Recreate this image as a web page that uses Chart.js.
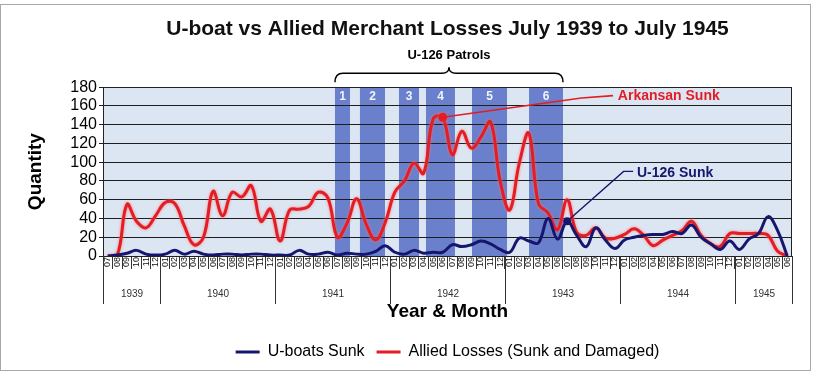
<!DOCTYPE html>
<html><head><meta charset="utf-8">
<script src="https://cdn.jsdelivr.net/npm/chart.js@4.4.1/dist/chart.umd.min.js"></script>
<style>html,body{margin:0;padding:0;background:#fff;}canvas{display:block;}</style>
</head><body>
<canvas id="c" width="819" height="379"></canvas>
<script>
// ---- data ----
const months = ['07','08','09','10','11','12',
  '01','02','03','04','05','06','07','08','09','10','11','12',
  '01','02','03','04','05','06','07','08','09','10','11','12',
  '01','02','03','04','05','06','07','08','09','10','11','12',
  '01','02','03','04','05','06','07','08','09','10','11','12',
  '01','02','03','04','05','06','07','08','09','10','11','12',
  '01','02','03','04','05','06'];
const yearLabels = ['1939','1940','1941','1942','1943','1944','1945'];
const yearBounds = [0, 6, 18, 30, 42, 54, 66, 72];
const uboatsSunk = [0,1,3,6,2,1, 2,6,2,5,2,1,2,2,1,2,2,1, 1,1,6,2,2,4,1,3,2,2,5,11,
  4,2,6,3,4,4,12,10,12,16,13,7, 4,19,16,14,40,18,37,22,10,30,17,8,
  17,20,22,23,23,26,24,33,20,13,7,16, 7,18,24,42,27,0];
const alliedLosses = [0,1,55,37,30,43, 57,56,32,12,20,69,43,68,63,75,37,50,
  16,49,50,53,68,62,20,35,61,34,17,36, 68,80,99,88,146,148,108,133,115,127,143,80,
  49,99,131,56,46,28,60,25,22,30,19,19, 23,29,22,11,17,22,27,37,22,13,10,24,
  24,24,24,22,5,0];
const patrolNames = ['1','2','3','4','5','6'];
const patrolStart = [23.74, 26.35, 30.43, 33.25, 38.06, 44.02];
const patrolEnd   = [25.31, 28.97, 32.52, 36.28, 41.72, 47.57];
const arkansanIndex = 35;
const u126Index = 48;

const RED = '#e21d25', NAVY = '#17166e';
const FONT = "'Liberation Sans', Arial, sans-serif";
Chart.defaults.font.family = FONT;
Chart.defaults.color = '#000';

const decor = {
  id: 'decor',
  beforeDraw(chart) {
    const {ctx, chartArea: a, scales: {x}} = chart;
    ctx.save();
    ctx.fillStyle = '#fff';
    ctx.fillRect(0, 0, chart.width, chart.height);
    ctx.strokeStyle = '#a8a8a8'; ctx.lineWidth = 1;
    ctx.strokeRect(0.5, 4.5, 810, 366);
    ctx.fillStyle = '#dce6f2';
    ctx.fillRect(a.left, a.top, a.right - a.left, a.bottom - a.top);
    ctx.fillStyle = '#6a80cc';
    patrolStart.forEach((s, i) => {
      const x0 = x.getPixelForValue(s), x1 = x.getPixelForValue(patrolEnd[i]);
      ctx.fillRect(x0, a.top, x1 - x0, a.bottom - a.top);
    });
    ctx.fillStyle = '#f0f3fb';
    ctx.font = 'bold 12px ' + FONT;
    ctx.textAlign = 'center'; ctx.textBaseline = 'middle';
    patrolStart.forEach((s, i) => {
      const xc = (x.getPixelForValue(s) + x.getPixelForValue(patrolEnd[i])) / 2;
      ctx.fillText(patrolNames[i], xc, a.top + 9);
    });
    ctx.restore();
  },
  beforeDatasetDraw(chart, args) {
    if (args.index === 1) {
      chart.ctx.save();
      chart.ctx.shadowColor = 'rgba(255,110,110,0.9)';
      chart.ctx.shadowBlur = 3;
    }
  },
  afterDatasetDraw(chart, args) {
    if (args.index === 1) chart.ctx.restore();
  },
  afterDatasetsDraw(chart) {
    const {ctx, scales: {x, y}} = chart;
    ctx.save();
    ctx.strokeStyle = RED; ctx.lineWidth = 1.6;
    ctx.beginPath();
    ctx.moveTo(x.getPixelForValue(arkansanIndex), y.getPixelForValue(alliedLosses[arkansanIndex]));
    ctx.lineTo(x.getPixelForValue(49.5), y.getPixelForValue(168.5));
    ctx.lineTo(x.getPixelForValue(52.8), y.getPixelForValue(171));
    ctx.stroke();
    ctx.fillStyle = RED;
    ctx.font = 'bold 14px ' + FONT;
    ctx.textAlign = 'left'; ctx.textBaseline = 'middle';
    ctx.fillText('Arkansan Sunk', x.getPixelForValue(53.3), y.getPixelForValue(170.4));
    ctx.strokeStyle = NAVY; ctx.lineWidth = 1.4;
    ctx.beginPath();
    ctx.moveTo(x.getPixelForValue(u126Index), y.getPixelForValue(uboatsSunk[u126Index]));
    ctx.lineTo(x.getPixelForValue(53.9), y.getPixelForValue(90.2));
    ctx.lineTo(x.getPixelForValue(54.9), y.getPixelForValue(90.2));
    ctx.stroke();
    ctx.fillStyle = NAVY;
    ctx.fillText('U-126 Sunk', x.getPixelForValue(55.3), y.getPixelForValue(88.4));
    ctx.restore();
  },
  afterDraw(chart) {
    const {ctx, chartArea: a, scales: {x}} = chart;
    ctx.save();
    ctx.strokeStyle = '#222'; ctx.lineWidth = 1;
    ctx.strokeRect(Math.round(a.left) + 0.5, Math.round(a.top) + 0.5, Math.round(a.right - a.left) - 1, Math.round(a.bottom - a.top));
    const px = b => Math.round(x.getPixelForValue(b - 0.5)) + 0.5;
    ctx.strokeStyle = '#333';
    yearBounds.forEach(b => {
      ctx.beginPath(); ctx.moveTo(px(b), a.bottom); ctx.lineTo(px(b), a.bottom + 48); ctx.stroke();
    });
    ctx.fillStyle = '#333'; ctx.font = '10px ' + FONT;
    ctx.textAlign = 'center'; ctx.textBaseline = 'middle';
    yearLabels.forEach((lab, i) => {
      ctx.fillText(lab, (px(yearBounds[i]) + px(yearBounds[i + 1])) / 2, a.bottom + 38);
    });
    const xl = x.getPixelForValue(patrolStart[0]), xr = x.getPixelForValue(patrolEnd[patrolEnd.length - 1]);
    const xm = (xl + xr) / 2;
    const yEnd = a.top - 5, yMid = a.top - 14, yTip = a.top - 20;
    ctx.strokeStyle = '#000'; ctx.lineWidth = 1.5;
    ctx.beginPath();
    ctx.moveTo(xl, yEnd);
    ctx.quadraticCurveTo(xl, yMid, xl + 8, yMid);
    ctx.lineTo(xm - 7, yMid);
    ctx.quadraticCurveTo(xm, yMid, xm, yTip);
    ctx.quadraticCurveTo(xm, yMid, xm + 7, yMid);
    ctx.lineTo(xr - 8, yMid);
    ctx.quadraticCurveTo(xr, yMid, xr, yEnd);
    ctx.stroke();
    ctx.fillStyle = '#000';
    ctx.font = "bold 13px 'Liberation Sans Narrow', " + FONT;
    ctx.fillText('U-126 Patrols', xm, a.top - 32);
    ctx.restore();
  }
};

new Chart(document.getElementById('c'), {
  type: 'line',
  data: {
    labels: months,
    datasets: [
      { label: 'U-boats Sunk', data: uboatsSunk, borderColor: NAVY, backgroundColor: NAVY,
        borderWidth: 3, tension: 0.4, fill: false,
        pointRadius: c => c.dataIndex === u126Index ? 4 : 0, pointBackgroundColor: NAVY, pointBorderWidth: 0 },
      { label: 'Allied Losses (Sunk and Damaged)', data: alliedLosses, borderColor: RED, backgroundColor: RED,
        borderWidth: 3, tension: 0.4, fill: false,
        pointRadius: c => c.dataIndex === arkansanIndex ? 4.5 : 0, pointBackgroundColor: RED, pointBorderWidth: 0 }
    ]
  },
  options: {
    responsive: false, animation: false, devicePixelRatio: 1,
    layout: { padding: { left: 0, right: 27, top: 0, bottom: 9 } },
    plugins: {
      title: { display: true, fullSize: false, text: 'U-boat vs Allied Merchant Losses July 1939 to July 1945',
        font: { size: 21, weight: 'bold' }, color: '#111', padding: { top: 17, bottom: 45 } },
      legend: { position: 'bottom', fullSize: false,
        labels: { usePointStyle: true, pointStyle: 'line', pointStyleWidth: 24, padding: 12,
          font: { size: 16 }, color: '#000',
          generateLabels: chart => chart.data.datasets.map((ds, i) => ({
            text: ds.label, strokeStyle: ds.borderColor, fillStyle: ds.borderColor,
            lineWidth: 3, pointStyle: 'line', hidden: false, datasetIndex: i, fontColor: '#000'
          })) } },
      tooltip: { enabled: false }
    },
    scales: {
      x: {
        offset: true,
        grid: { offset: true, drawOnChartArea: false, tickLength: 13, color: '#333' },
        border: { display: true, color: '#000' },
        ticks: { autoSkip: false, minRotation: 90, maxRotation: 90, padding: -12, font: { size: 9 }, color: '#111' },
        title: { display: true, text: 'Year & Month', font: { size: 19, weight: 'bold' }, color: '#000',
          padding: { top: 0, bottom: 9 } },
        afterFit: s => { s.height = 76; }
      },
      y: {
        min: 0, max: 180,
        ticks: { stepSize: 20, autoSkip: false, font: { size: 16, lineHeight: 1 }, color: '#000', padding: 2 },
        grid: { color: '#1e1e1e', tickLength: 4 },
        border: { display: true, color: '#000' },
        title: { display: true, text: 'Quantity', font: { size: 19, weight: 'bold' }, color: '#000',
          padding: { top: 24, bottom: 0 } },
        afterFit: s => { s.width = 103; }
      }
    }
  },
  plugins: [decor]
});
</script>
</body></html>
